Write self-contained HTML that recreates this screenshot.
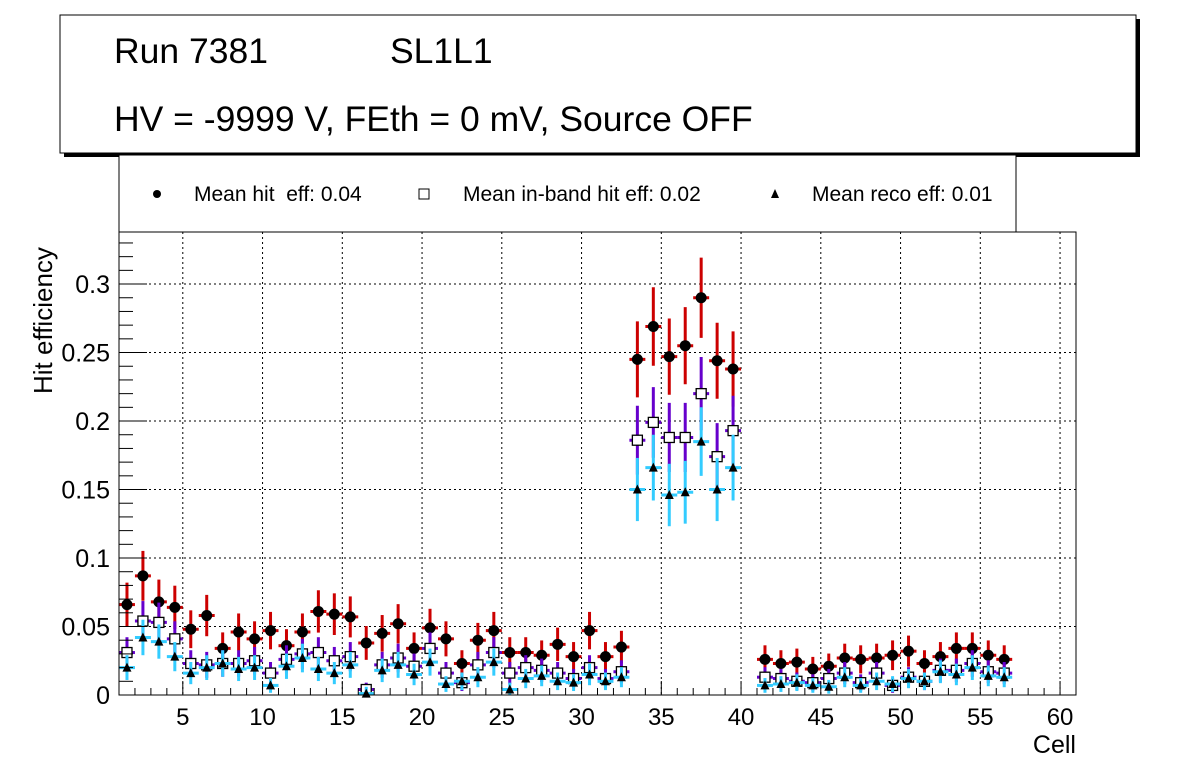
<!DOCTYPE html>
<html><head><meta charset="utf-8"><style>
body{margin:0;background:#fff;}
svg text{font-family:"Liberation Sans",sans-serif;}
</style></head><body>
<svg id="c" width="1196" height="772" xmlns="http://www.w3.org/2000/svg">
<rect x="0" y="0" width="1196" height="772" fill="#fff"/>
<rect x="64" y="19" width="1076" height="138" fill="#000"/>
<rect x="60" y="15" width="1076" height="138" fill="#fff" stroke="#000" stroke-width="1"/>
<text x="114" y="63" font-size="35.5">Run 7381</text>
<text x="390" y="63" font-size="35.5">SL1L1</text>
<text x="114" y="131" font-size="35.5">HV = -9999 V, FEth = 0 mV, Source OFF</text>
<rect x="119" y="155" width="897" height="77" fill="#fff" stroke="#000" stroke-width="1"/>
<g id="legend"></g>
<g id="grid"></g>
<g id="marks"></g>
<rect x="119" y="232" width="957" height="463" fill="none" stroke="#000" stroke-width="1"/>
<g id="axes"></g>
<text transform="translate(52,394) rotate(-90)" font-size="26">Hit efficiency</text>
<text x="1076" y="753" font-size="25" text-anchor="end">Cell</text>
</svg>
<script>
const cells = [1,2,3,4,5,6,7,8,9,10,11,12,13,14,15,16,17,18,19,20,21,22,23,24,25,26,27,28,29,30,31,32,33,34,35,36,37,38,39,41,42,43,44,45,46,47,48,49,50,51,52,53,54,55,56];
const hitEff = [.066,.087,.068,.064,.048,.058,.034,.046,.041,.047,.036,.046,.061,.059,.057,.038,.045,.052,.034,.049,.041,.023,.040,.047,.031,.031,.029,.037,.028,.047,.028,.035,.245,.269,.247,.255,.290,.244,.238,.026,.023,.024,.019,.021,.027,.026,.027,.029,.032,.023,.028,.034,.034,.029,.026];
const inbandEff = [.031,.054,.053,.041,.023,.022,.023,.023,.025,.016,.026,.030,.031,.025,.028,.004,.022,.027,.021,.034,.016,.009,.022,.031,.016,.020,.018,.016,.012,.020,.012,.017,.186,.199,.188,.188,.220,.174,.193,.013,.012,.010,.009,.012,.016,.009,.016,.007,.013,.010,.018,.018,.023,.017,.016];
const recoEff = [.020,.042,.039,.028,.016,.020,.023,.019,.020,.007,.021,.027,.019,.016,.022,.001,.018,.022,.015,.024,.008,.010,.013,.024,.004,.012,.014,.010,.009,.015,.010,.013,.150,.166,.146,.148,.185,.150,.166,.007,.008,.009,.007,.006,.013,.007,.010,.008,.012,.010,.017,.015,.020,.014,.013];
const xTicks = [5,10,15,20,25,30,35,40,45,50,55,60];
const yTicks = [0,0.05,0.1,0.15,0.2,0.25,0.3];
const yTickLabels = ["0","0.05","0.1","0.15","0.2","0.25","0.3"];
const nTrig = 240;

const NS="http://www.w3.org/2000/svg";
const X0=119,X1=1076,Y0=695,Y1=232, xmin=1,xmax=61,ymax=0.338;
const sx=v=>X0+(v-xmin)/(xmax-xmin)*(X1-X0);
const sy=v=>Y0-v/ymax*(Y0-Y1);
function mk(tag,attrs,parent){const e=document.createElementNS(NS,tag);for(const k in attrs)e.setAttribute(k,attrs[k]);parent.appendChild(e);return e;}
const grid=document.getElementById('grid'),axes=document.getElementById('axes'),marks=document.getElementById('marks'),legend=document.getElementById('legend');

xTicks.forEach(t=>{const x=sx(t);
 const g=mk('line',{x1:x,x2:x,y1:Y1,y2:Y0,stroke:'#000','stroke-dasharray':'2,3','stroke-width':1},grid);
 
 mk('line',{x1:x,x2:x,y1:Y0,y2:Y0-14,stroke:'#000'},axes);
 const tx=mk('text',{x:x,y:Y0+30,'font-size':24,'text-anchor':'middle'},axes);tx.textContent=t;
 
});
for(let v=2;v<61;v++){if(v%5)mk('line',{x1:sx(v),x2:sx(v),y1:Y0,y2:Y0-7,stroke:'#000'},axes);}
yTicks.forEach((t,i)=>{const y=sy(t);
 if(i>0){const g=mk('line',{x1:X0,x2:X1,y1:y,y2:y,stroke:'#000','stroke-dasharray':'2,3','stroke-width':1},grid);
 }
 mk('line',{x1:X0,x2:X0+28,y1:y,y2:y,stroke:'#000'},axes);
 const tx=mk('text',{x:X0-9,y:y+9,'font-size':25,'text-anchor':'end'},axes);tx.textContent=yTickLabels[i];
 
});
for(let k=1;k<34;k++){if(k%5)mk('line',{x1:X0,x2:X0+14,y1:sy(k*0.01),y2:sy(k*0.01),stroke:'#000'},axes);}

function marker(type,x,y,p){
 if(type==='c') return mk('circle',{cx:x,cy:y,r:5.5,fill:'#000'},p);
 if(type==='s') return mk('rect',{x:x-5,y:y-5,width:10,height:10,fill:'#fff',stroke:'#000','stroke-width':1.3},p);
 return mk('polygon',{points:`${x},${y-5} ${x-4.5},${y+4} ${x+4.5},${y+4}`,fill:'#000'},p);
}
function series(vals,color,type,name){
 const g=mk('g',{},marks);
 vals.forEach((v,i)=>{const c=cells[i];const x=sx(c+0.5),y=sy(v);
  const e=Math.max(Math.sqrt(v*(1-v)/nTrig),0.005);
  mk('line',{x1:sx(c),x2:sx(c+1),y1:y,y2:y,stroke:color,'stroke-width':3},g);
  mk('line',{x1:x,x2:x,y1:sy(Math.min(v+e,ymax)),y2:sy(Math.max(v-e,0)),stroke:color,'stroke-width':3},g);
  const m=marker(type,x,y,g);
 });
}
series(hitEff,'#cc0000','c','hit-eff-series');
series(inbandEff,'#6600cc','s','inband-eff-series');
series(recoEff,'#33ccff','t','reco-eff-series');

[['c','Mean hit  eff: 0.04',157,194],['s','Mean in-band hit eff: 0.02',424,463],['t','Mean reco eff: 0.01',775,812]].forEach(d=>{
 const g=mk('g',{},legend);
 if(d[0]==='c')mk('circle',{cx:d[2],cy:194,r:4,fill:'#000'},g);
 else if(d[0]==='s')mk('rect',{x:d[2]-5,y:189,width:10,height:10,fill:'#fff',stroke:'#000'},g);
 else mk('polygon',{points:`${d[2]},189 ${d[2]-4},198 ${d[2]+4},198`,fill:'#000'},g);
 const t=mk('text',{x:d[3],y:201,'font-size':21},g);t.textContent=d[1];
 t.setAttribute('style','white-space:pre');
});
</script>
</body></html>
